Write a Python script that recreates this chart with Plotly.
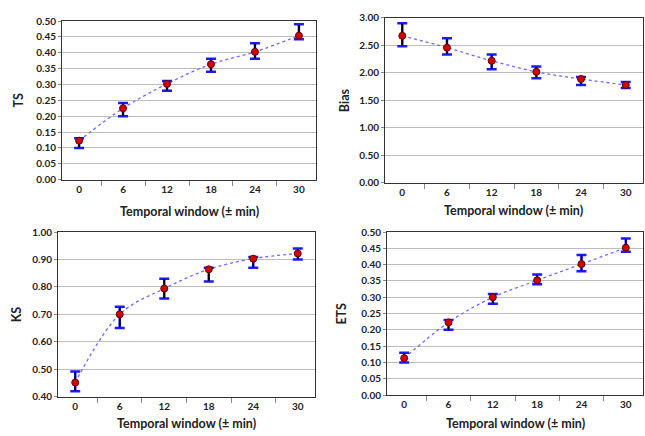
import plotly.graph_objects as go

windows = ["0", "6", "12", "18", "24", "30"]

ts = [0.123, 0.225, 0.302, 0.364, 0.403, 0.454]
ts_hi = [0.131, 0.242, 0.311, 0.381, 0.430, 0.490]
ts_lo = [0.100, 0.200, 0.280, 0.340, 0.381, 0.443]

bias = [2.67, 2.455, 2.215, 2.015, 1.885, 1.775]
bias_hi = [2.90, 2.625, 2.33, 2.11, 1.92, 1.83]
bias_lo = [2.48, 2.33, 2.06, 1.90, 1.775, 1.72]

ks = [0.451, 0.700, 0.794, 0.864, 0.903, 0.922]
ks_hi = [0.491, 0.728, 0.830, 0.870, 0.909, 0.940]
ks_lo = [0.419, 0.650, 0.758, 0.820, 0.870, 0.900]

ets = [0.113, 0.223, 0.300, 0.352, 0.402, 0.452]
ets_hi = [0.130, 0.230, 0.310, 0.370, 0.430, 0.480]
ets_lo = [0.100, 0.200, 0.280, 0.340, 0.380, 0.440]

W, H = 645, 436
panels = [
    dict(name="TS", y=ts, hi=ts_hi, lo=ts_lo, yr=[0, 0.5], dt=0.05,
         px=(62, 316), py=(14.5, 178), ytx=18, xty=211),
    dict(name="Bias", y=bias, hi=bias_hi, lo=bias_lo, yr=[0, 3.0], dt=0.5,
         px=(385, 643), py=(11, 181), ytx=344, xty=210),
    dict(name="KS", y=ks, hi=ks_hi, lo=ks_lo, yr=[0.4, 1.0], dt=0.1,
         px=(58, 315), py=(232, 401.5), ytx=16, xty=429),
    dict(name="ETS", y=ets, hi=ets_hi, lo=ets_lo, yr=[0, 0.5], dt=0.05,
         px=(387, 643), py=(232, 400), ytx=342, xty=429),
]

FONT = "Lato"
TF = dict(family=FONT, size=10, color="#222222", weight="bold")
fig = go.Figure()
layout = {}
annotations = []
for i, p in enumerate(panels):
    n = "" if i == 0 else str(i + 1)
    xa, ya = "x" + n, "y" + n
    xd = [p["px"][0] / W, p["px"][1] / W]
    yd = [1 - p["py"][1] / H, 1 - p["py"][0] / H]
    span = p["yr"][1] - p["yr"][0]
    up = [h - v for h, v in zip(p["hi"], p["y"])]
    dn = [v - l for v, l in zip(p["y"], p["lo"])]
    fig.add_trace(go.Scatter(x=windows, y=p["y"], mode="lines", xaxis=xa, yaxis=ya,
                             line=dict(color="#6b6bff", width=1.3, dash="dot", shape="spline"),
                             showlegend=False, hoverinfo="skip"))
    fig.add_trace(go.Scatter(x=windows, y=p["y"], mode="markers", xaxis=xa, yaxis=ya,
                             marker=dict(size=1, opacity=0),
                             error_y=dict(type="data", symmetric=False, array=up, arrayminus=dn,
                                          color="#1a1aff", thickness=2.5, width=5),
                             showlegend=False))
    fig.add_trace(go.Scatter(x=windows, y=p["y"], mode="markers", xaxis=xa, yaxis=ya,
                             marker=dict(size=7, color="#d40000", line=dict(color="#600000", width=1)),
                             error_y=dict(type="data", symmetric=False,
                                          array=[u - 0.004 * span for u in up],
                                          arrayminus=[d - 0.004 * span for d in dn],
                                          color="black", thickness=1.6, width=0),
                             showlegend=False))
    layout["xaxis" + n] = dict(domain=xd, anchor=ya, type="category",
                               tickson="boundaries", ticks="outside", ticklen=5,
                               tickcolor="#888888", showline=True, linecolor="#333333",
                               linewidth=1, mirror=True, showgrid=False,
                               tickfont=TF)
    layout["yaxis" + n] = dict(domain=yd, anchor=xa, range=p["yr"], dtick=p["dt"],
                               tick0=p["yr"][0], tickformat=".2f",
                               showline=True, linecolor="#333333", linewidth=1, mirror=True,
                               showgrid=True, gridcolor="#bdbdbd", gridwidth=1,
                               ticks="outside", ticklen=3, tickcolor="#888888",
                               zeroline=False, tickfont=TF)
    annotations.append(dict(text="Temporal window (\u00b1 min)", x=(xd[0] + xd[1]) / 2,
                            y=1 - p["xty"] / H,
                            xref="paper", yref="paper", showarrow=False,
                            xanchor="center", yanchor="middle",
                            font=dict(family=FONT, size=12.5, color="#222222", weight="bold")))
    annotations.append(dict(text=p["name"], x=p["ytx"] / W, y=(yd[0] + yd[1]) / 2,
                            xref="paper", yref="paper", showarrow=False, textangle=-90,
                            xanchor="center", yanchor="middle",
                            font=dict(family=FONT, size=12.5, color="#222222", weight="bold")))

fig.update_layout(width=W, height=H, margin=dict(l=0, r=0, t=0, b=0),
                  paper_bgcolor="white", plot_bgcolor="white",
                  annotations=annotations, **layout)
fig.write_html("out.html", config={"displayModeBar": False},
               post_script="document.body.style.margin='0';")
